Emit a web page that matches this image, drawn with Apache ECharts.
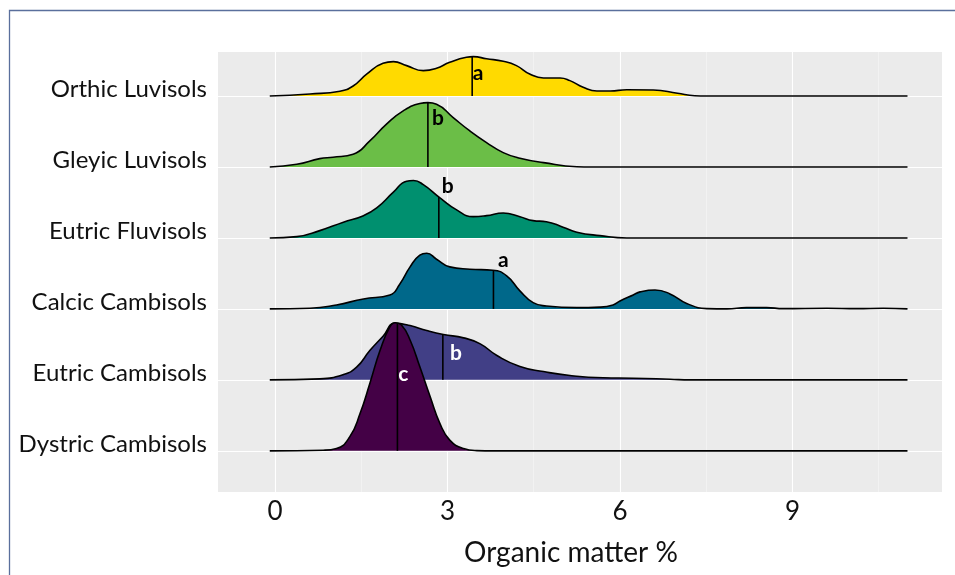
<!DOCTYPE html>
<html><head><meta charset="utf-8">
<script src="https://cdn.jsdelivr.net/npm/echarts@6/dist/echarts.min.js"></script>
<style>html,body{margin:0;padding:0;background:#fff}#c{width:955px;height:575px}</style>
</head><body><div id="c"></div>
<script>
// ---- data ----
const categories = ['Dystric Cambisols','Eutric Cambisols','Calcic Cambisols','Eutric Fluvisols','Gleyic Luvisols','Orthic Luvisols'];
const xTicks = [0, 3, 6, 9];
const xMinorGrid = [1.5, 4.5, 7.5, 10.5];

// Organic matter % (x) and estimated density (d) for each soil group
const dystricX = [-0.09,0.84,1.07,1.3,1.48,1.65,1.83,2.0,2.09,2.2,2.35,2.52,2.7,2.87,3.04,3.28,3.51,3.8,11.0];
const dystricD = [0,0.005,0.018,0.109,0.291,0.526,0.787,0.969,1.0,0.982,0.865,0.656,0.422,0.213,0.084,0.018,0.002,0,0];

const eutricCambX = [-0.09,0.78,1.19,1.42,1.65,1.88,2.09,2.35,2.64,2.93,3.28,3.57,3.86,4.26,4.67,5.13,5.71,6.23,6.87,7.22,11.0];
const eutricCambD = [0,0.008,0.041,0.099,0.229,0.341,0.443,0.424,0.385,0.354,0.328,0.281,0.19,0.104,0.065,0.034,0.016,0.013,0.005,0,0];

const calcicX = [-0.09,0.61,1.07,1.54,2.0,2.17,2.35,2.52,2.64,2.81,3.04,3.39,3.79,4.03,4.26,4.49,4.72,5.25,5.65,5.88,6.0,6.23,6.35,6.61,6.87,7.16,7.51,7.86,8.2,8.55,8.84,9.6,10.12,10.58,11.0];
const calcicD = [0,0.005,0.031,0.078,0.109,0.193,0.328,0.42,0.435,0.388,0.328,0.31,0.302,0.258,0.141,0.049,0.023,0.01,0.014,0.031,0.062,0.109,0.133,0.148,0.117,0.043,0.002,0,0.01,0.01,0.002,0.005,0.002,0.005,0];

const fluvisolsX = [-0.09,0.38,0.78,1.19,1.54,1.77,2.06,2.29,2.41,2.58,2.87,3.16,3.45,3.68,3.97,4.26,4.49,4.72,5.01,5.25,5.65,6.12,11.0];
const fluvisolsD = [0,0.01,0.057,0.123,0.174,0.234,0.357,0.443,0.448,0.416,0.313,0.219,0.166,0.174,0.195,0.166,0.135,0.127,0.084,0.045,0.018,0,0];

const gleyicX = [-0.09,0.38,0.78,1.01,1.36,1.65,1.94,2.23,2.52,2.66,2.81,3.1,3.39,3.68,3.97,4.26,4.67,5.25,5.5,11.0];
const gleyicD = [0,0.021,0.065,0.076,0.099,0.203,0.334,0.438,0.495,0.502,0.49,0.385,0.281,0.19,0.112,0.068,0.034,0.002,0,0];

const orthicX = [-0.09,0.61,1.13,1.36,1.6,1.88,2.06,2.29,2.58,2.81,3.04,3.33,3.45,3.68,3.97,4.2,4.43,4.67,4.96,5.13,5.36,5.6,5.83,6.12,6.58,7.0,7.3,7.5,11.0];
const orthicD = [0,0.016,0.037,0.078,0.172,0.255,0.268,0.237,0.198,0.216,0.263,0.302,0.307,0.291,0.271,0.237,0.172,0.141,0.141,0.12,0.068,0.039,0.039,0.049,0.047,0.021,0.002,0,0];

const medians = [2.13, 2.92, 3.80, 2.85, 2.66, 3.43];
const letters = ['c', 'b', 'a', 'b', 'b', 'a'];

// ---- styles ----
const fills = ['#440146', '#413F86', '#00688A', '#00906F', '#6BBE47', '#FFDA00'];
const letterColors = ['#ffffff', '#ffffff', '#000000', '#000000', '#000000', '#000000'];
const letterOffsets = [[6, 51], [13, 19], [10, -10], [9, -11], [10, 16], [6, 16]];
const SCALE = 1.805;
const FONT = 'Lato';

const ridgeX = [dystricX, eutricCambX, calcicX, fluvisolsX, gleyicX, orthicX];
const ridgeD = [dystricD, eutricCambD, calcicD, fluvisolsD, gleyicD, orthicD];

function heightAt(xs, ds, m) {
  for (let i = 0; i < xs.length - 1; i++) {
    if (m >= xs[i] && m <= xs[i + 1]) {
      const t = (m - xs[i]) / (xs[i + 1] - xs[i]);
      return ds[i] + t * (ds[i + 1] - ds[i]);
    }
  }
  return 0;
}

const series = [];
// gridlines (behind)
series.push({
  type: 'line', data: [], z: 1, silent: true,
  markLine: {
    silent: true, symbol: 'none', animation: false, label: { show: false },
    data: [
      ...xTicks.map(v => ({ xAxis: v, lineStyle: { color: '#ffffff', width: 1.1, type: 'solid' } })),
      ...xMinorGrid.map(v => ({ xAxis: v, lineStyle: { color: '#f6f6f6', width: 0.6, type: 'solid' } })),
      ...categories.map((c, i) => ({ yAxis: i, lineStyle: { color: '#ffffff', width: 1.1, type: 'solid' } }))
    ]
  }
});
// ridges, back (top) to front (bottom)
for (let i = categories.length - 1; i >= 0; i--) {
  const xs = ridgeX[i], ds = ridgeD[i];
  series.push({
    name: categories[i], type: 'line', z: 10 + (categories.length - i),
    data: xs.map((x, k) => [x, i + ds[k] * SCALE]),
    smooth: 0.5, showSymbol: false, symbol: 'none',
    lineStyle: { color: '#000', width: 1.6 },
    areaStyle: { color: fills[i], opacity: 1, origin: i },
    silent: true
  });
}
// medians and letters
series.push({
  type: 'custom', z: 30, silent: true,
  data: medians.map((m, i) => [m, i, heightAt(ridgeX[i], ridgeD[i], m)]),
  renderItem(params, api) {
    const m = api.value(0), i = api.value(1), h = api.value(2);
    const p0 = api.coord([m, i]);
    const p1 = api.coord([m, i + h * SCALE]);
    const off = letterOffsets[i];
    return {
      type: 'group', children: [
        { type: 'line', shape: { x1: p0[0], y1: p0[1], x2: p1[0], y2: p1[1] }, style: { stroke: '#000', lineWidth: 1.6 } },
        { type: 'text', x: p1[0] + off[0], y: p1[1] + off[1],
          style: { text: letters[i], fill: letterColors[i], font: 'bold 21px ' + FONT,
                   align: 'center', verticalAlign: 'middle', textAlign: 'center', textVerticalAlign: 'middle' } }
      ]
    };
  }
});

const chart = echarts.init(document.getElementById('c'), null, { renderer: 'canvas' });
chart.setOption({
  animation: false,
  backgroundColor: '#ffffff',
  grid: { left: 218, right: 13, top: 52, bottom: 83, show: true, backgroundColor: '#EBEBEB', borderWidth: 0 },
  xAxis: {
    type: 'value', min: -0.99, max: 11.6,
    axisLine: { show: false },
    splitLine: { show: false },
    axisTick: { show: true, length: 3, customValues: xTicks, lineStyle: { color: '#333', width: 1 } },
    axisLabel: { customValues: xTicks, fontFamily: FONT, fontSize: 26, color: '#111', margin: 7 }
  },
  yAxis: {
    type: 'value', min: -0.58, max: 5.62,
    axisLine: { show: false }, axisTick: { show: false }, splitLine: { show: false },
    axisLabel: {
      customValues: [0, 1, 2, 3, 4, 5], formatter: v => categories[Math.round(v)],
      fontFamily: FONT, fontSize: 24, color: '#111', margin: 11,
      verticalAlign: 'bottom', lineHeight: 13
    }
  },
  graphic: [
    { type: 'rect', shape: { x: 9.5, y: 10.5, width: 1200, height: 1200 }, style: { fill: 'none', stroke: '#5a6f9c', lineWidth: 1.3 }, z: 100, silent: true },
    { type: 'text', x: 571, y: 553, style: { text: 'Organic matter %', font: '28px ' + FONT, fill: '#111', align: 'center', verticalAlign: 'middle', textAlign: 'center', textVerticalAlign: 'middle' }, z: 100 }
  ],
  series
});
</script>
</body></html>
